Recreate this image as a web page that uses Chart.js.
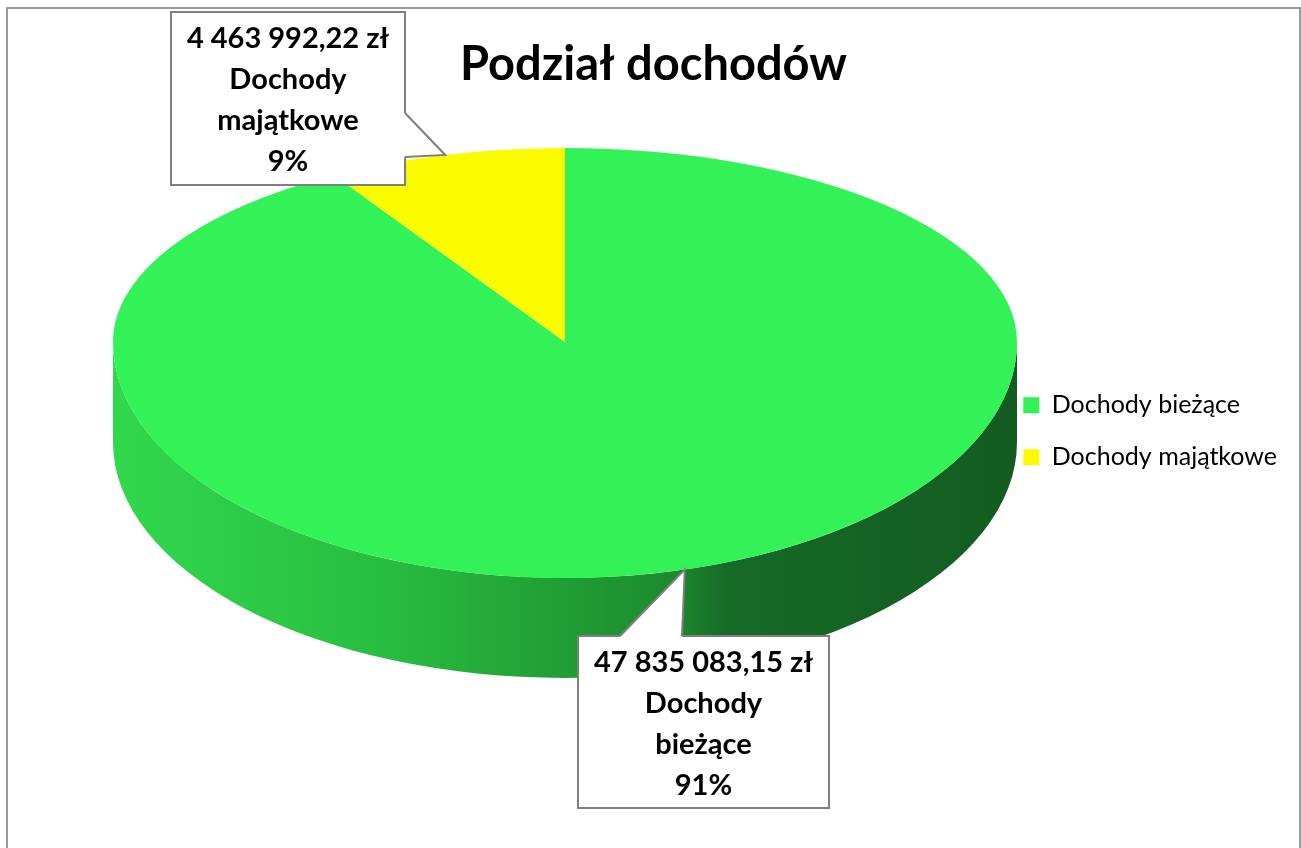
<!DOCTYPE html>
<html>
<head>
<meta charset="utf-8">
<title>Podział dochodów</title>
<script src="https://cdn.jsdelivr.net/npm/chart.js@4.4.1/dist/chart.umd.min.js"></script>
<style>
body { margin: 0; background: #fff; }
canvas { display: block; }
</style>
</head>
<body>
<canvas id="myChart" width="1301" height="848"></canvas>
<script>

var chartTitle = 'Podział dochodów';
var categories = ['Dochody bieżące', 'Dochody majątkowe'];
var amounts = [47835083.15, 4463992.22];
var sliceColors = ['#33f257', '#fafa00'];
var sideColors = ['green', '#c4c400'];   // 'green' -> gradient below

// where the flat pie gets squashed to, to fake the 3D look
// (back half flatter than the front half, like a perspective view)
var pieCx = 565, pieCy = 342, pieRx = 452, pieRyBack = 194, pieRyFront = 236, pieDepth = 100;

// callout boxes (same order as categories), base = where the pointer leaves the box
var callouts = [
    { x: 578, y: 636, w: 251, h: 172, base: [[620, 636], [682, 636]] },
    { x: 171, y: 12, w: 234, h: 173, base: [[405, 113], [405, 157]] }
];

function formatZl(v) {
    var parts = v.toFixed(2).split('.');
    var intPart = parts[0].replace(/\B(?=(\d{3})+(?!\d))/g, ' ');
    return intPart + ',' + parts[1] + ' zł';
}

// parts of [s,e] that face the viewer (lower half of the ellipse)
function frontRanges(s, e) {
    var out = [];
    var starts = [-2 * Math.PI, 0, 2 * Math.PI];
    for (var i = 0; i < starts.length; i++) {
        var a = Math.max(s, starts[i]);
        var b = Math.min(e, starts[i] + Math.PI);
        if (b > a) out.push([a, b]);
    }
    return out;
}

// squash the chart.js circle into one half of the ellipse
function squash(ctx, arc, ry, front) {
    ctx.save();
    ctx.beginPath();
    if (front) ctx.rect(0, pieCy, 1301, 848);
    else ctx.rect(0, 0, 1301, pieCy + 0.5);
    ctx.clip();
    ctx.translate(pieCx, pieCy);
    ctx.scale(pieRx / arc.outerRadius, ry / arc.outerRadius);
    ctx.translate(-arc.x, -arc.y);
}

var framePlugin = {
    id: 'frame',
    beforeDraw: function(chart) {
        var ctx = chart.ctx;
        ctx.save();
        ctx.strokeStyle = '#9a9a9a';
        ctx.lineWidth = 2;
        ctx.strokeRect(7, 8, 1293, 900);
        ctx.restore();
    }
};

var pie3d = {
    id: 'pie3d',
    beforeDatasetsDraw: function(chart) {
        var ctx = chart.ctx;
        var arcs = chart.getDatasetMeta(0).data;

        var grad = ctx.createLinearGradient(pieCx - pieRx, 0, pieCx + pieRx, 0);
        grad.addColorStop(0, '#31d84d');
        grad.addColorStop(0.3, '#28bd40');
        grad.addColorStop(0.62, '#1d8a2e');
        grad.addColorStop(0.68, '#166a27');
        grad.addColorStop(1, '#135c21');

        arcs.forEach(function(arc, i) {
            var ranges = frontRanges(arc.startAngle, arc.endAngle);
            ranges.forEach(function(r) {
                ctx.beginPath();
                ctx.ellipse(pieCx, pieCy, pieRx, pieRyFront, 0, r[0], r[1]);
                ctx.ellipse(pieCx, pieCy + pieDepth, pieRx, pieRyFront, 0, r[1], r[0], true);
                ctx.closePath();
                ctx.fillStyle = sideColors[i] == 'green' ? grad : sideColors[i];
                ctx.fill();
            });
        });

        // back half of the top face: chart.js draws it with this transform
        squash(ctx, arcs[0], pieRyBack, false);
    },
    afterDatasetsDraw: function(chart) {
        var ctx = chart.ctx;
        var arcs = chart.getDatasetMeta(0).data;
        ctx.restore();
        // front half of the top face
        squash(ctx, arcs[0], pieRyFront, true);
        arcs.forEach(function(arc) { arc.draw(ctx); });
        ctx.restore();
    }
};

var calloutPlugin = {
    id: 'callouts',
    afterDraw: function(chart) {
        var ctx = chart.ctx;
        var arcs = chart.getDatasetMeta(0).data;
        var total = amounts.reduce(function(s, v) { return s + v; }, 0);

        arcs.forEach(function(arc, i) {
            var c = callouts[i];
            var mid = (arc.startAngle + arc.endAngle) / 2;
            var ry = Math.sin(mid) > 0 ? pieRyFront : pieRyBack;
            var tip = [pieCx + pieRx * Math.cos(mid), pieCy + ry * Math.sin(mid)];

            ctx.save();
            ctx.fillStyle = '#fff';
            ctx.strokeStyle = '#7f7f7f';
            ctx.lineWidth = 2;
            ctx.fillRect(c.x, c.y, c.w, c.h);
            ctx.strokeRect(c.x, c.y, c.w, c.h);

            // pointer: push the base points a bit inside so the box edge gets covered
            var cx = c.x + c.w / 2, cy = c.y + c.h / 2;
            var b0 = c.base[0], b1 = c.base[1];
            function inset(p) {
                var q = [p[0], p[1]];
                if (p[0] == c.x || p[0] == c.x + c.w) q[0] += p[0] < cx ? 3 : -3;
                if (p[1] == c.y || p[1] == c.y + c.h) q[1] += p[1] < cy ? 3 : -3;
                return q;
            }
            var i0 = inset(b0), i1 = inset(b1);
            ctx.beginPath();
            ctx.moveTo(i0[0], i0[1]);
            ctx.lineTo(b0[0], b0[1]);
            ctx.lineTo(tip[0], tip[1]);
            ctx.lineTo(b1[0], b1[1]);
            ctx.lineTo(i1[0], i1[1]);
            ctx.closePath();
            ctx.fill();
            ctx.beginPath();
            ctx.moveTo(b0[0], b0[1]);
            ctx.lineTo(tip[0], tip[1]);
            ctx.lineTo(b1[0], b1[1]);
            ctx.stroke();

            // text
            var words = categories[i].split(' ');
            var lines = [formatZl(amounts[i]), words[0], words.slice(1).join(' '),
                         Math.round(amounts[i] / total * 100) + '%'];
            ctx.fillStyle = '#000';
            ctx.font = 'bold 29px Lato';
            ctx.textAlign = 'center';
            ctx.textBaseline = 'alphabetic';
            lines.forEach(function(t, k) {
                ctx.fillText(t, c.x + c.w / 2, c.y + 36 + k * 41);
            });
            ctx.restore();
        });
    }
};

var ctx = document.getElementById('myChart').getContext('2d');
var chart = new Chart(ctx, {
    type: 'pie',
    data: {
        labels: categories,
        datasets: [{
            data: amounts,
            backgroundColor: sliceColors,
            borderWidth: 0,
            clip: false
        }]
    },
    options: {
        responsive: false,
        animation: false,
        events: [],
        layout: { padding: { left: 20, right: 14, bottom: 82 } },
        plugins: {
            title: {
                display: true,
                text: chartTitle,
                color: '#000',
                font: { family: 'Lato', size: 47, weight: 'bold' },
                padding: { top: 37, bottom: 3 }
            },
            legend: {
                position: 'right',
                fullSize: false,
                labels: {
                    color: '#000',
                    font: { family: 'Lato', size: 25 },
                    boxWidth: 16,
                    boxHeight: 16,
                    padding: 27
                }
            },
            tooltip: { enabled: false }
        }
    },
    plugins: [framePlugin, pie3d, calloutPlugin]
});
</script>
</body>
</html>
